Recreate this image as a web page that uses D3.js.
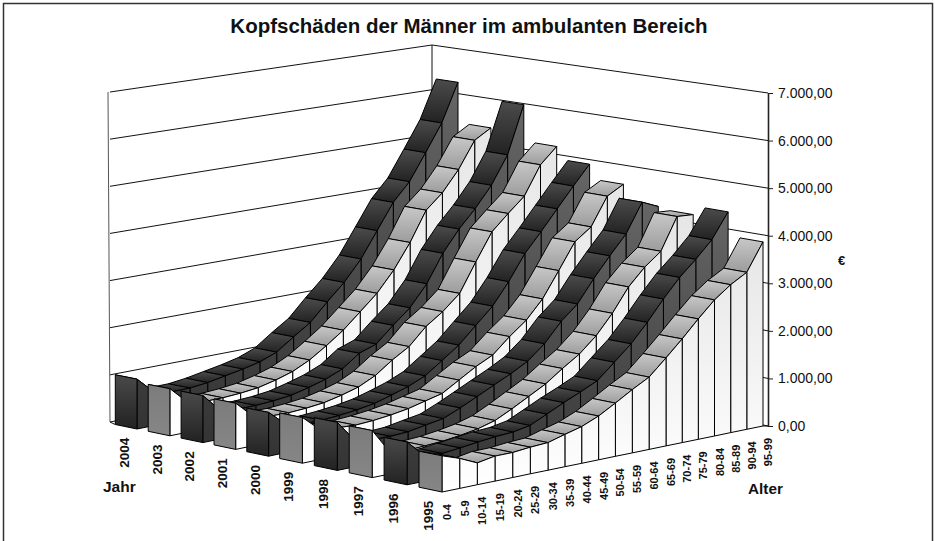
<!DOCTYPE html>
<html><head><meta charset="utf-8">
<script src="https://cdn.jsdelivr.net/npm/d3@7"></script>
<style>html,body{margin:0;padding:0;background:#fff}svg{display:block}text{font-family:"Liberation Sans",Arial,sans-serif;fill:#111}</style>
</head><body><svg id="c" width="935" height="541"></svg>
<script>
const title = "Kopfschäden der Männer im ambulanten Bereich";
const ages = ["0-4","5-9","10-14","15-19","20-24","25-29","30-34","35-39","40-44","45-49","50-54","55-59","60-64","65-69","70-74","75-79","80-84","85-89","90-94","95-99"];
const years = ["1995","1996","1997","1998","1999","2000","2001","2002","2003","2004"];
const v1995 = [760,630,460,525,525,560,580,680,770,920,1120,1330,1520,1850,2180,2530,2860,3110,3300,3870];
const v1996 = [900,525,505,545,590,630,650,715,880,1050,1200,1365,1680,1995,2375,2795,3180,3490,3835,4350];
const v1997 = [990,460,420,440,460,505,570,670,840,1030,1220,1470,1700,2015,2415,2900,3245,3510,4170,4140];
const v1998 = [1010,550,485,485,505,570,630,780,945,1115,1280,1470,1765,2165,2460,2920,3330,3720,4320,4160];
const v1999 = [960,630,590,570,590,630,690,775,860,1070,1280,1450,1765,2040,2415,2940,3475,3720,4295,4475];
const v2000 = [920,590,525,525,550,590,650,750,860,1010,1260,1510,1850,2185,2630,3150,3540,3950,4360,4750];
const v2001 = [970,620,550,540,560,600,680,780,950,1200,1410,1760,2000,2310,2900,3465,3780,4075,4665,4980];
const v2002 = [990,600,550,550,570,610,700,800,945,1200,1320,1640,1935,2370,2940,3380,3740,4160,4730,5715];
const v2003 = [990,630,570,570,590,630,715,820,990,1220,1470,1785,2100,2520,3025,3635,3930,4350,4895,5085];
const v2004 = [1050,690,630,630,670,735,800,880,1010,1260,1490,1850,2185,2605,3130,3655,4020,4560,5115,5900];
const seriesValues = [v1995,v1996,v1997,v1998,v1999,v2000,v2001,v2002,v2003,v2004];
const valueTicks = [0,1000,2000,3000,4000,5000,6000,7000];

const svg = d3.select("#c");
const defs = svg.append("defs");
function grad(id, topC, bottomC){
  const g = defs.append("linearGradient").attr("id",id).attr("x1",0).attr("y1",0).attr("x2",0).attr("y2",1);
  g.append("stop").attr("offset",0).attr("stop-color",topC);
  g.append("stop").attr("offset",1).attr("stop-color",bottomC);
}
grad("topDark","#4c4c4c","#222222");
grad("topLight","#c8c8c8","#9c9c9c");
grad("frontDark","#4a4a4a","#222222");
grad("frontLight","#7c7c7c","#868686");

// scales
const ageU = d3.scaleLinear().domain([0,6,13,19]).range([0,106,224,321]);
const depthU = d3.scaleLinear().domain([0,4.5,9]).range([0,157,305]);
const h = d3.scaleLinear().domain([0,7000]).range([0,333]);
const Ox = 442, Oy = 492, ageSlope = 66/321, depthSlope = 63/305, bandW = 0.66;

function base(a,d){ const u=ageU(a), w=depthU(d); return [Ox+u-w, Oy-u*ageSlope-w*depthSlope]; }
function topPt(a,d,val,near){ const b=base(a,d); return [b[0], b[1]-h(val)*(near?1:0.996)]; }
const poly = pts => "M"+pts.map(p=>p[0].toFixed(1)+","+p[1].toFixed(1)).join("L")+"Z";

const g = svg.append("g");
// frame
g.append("rect").attr("x",3.5).attr("y",3.5).attr("width",929).attr("height",560).attr("fill","none").attr("stroke","#333").attr("stroke-width",1.5);
g.append("text").attr("x",469).attr("y",33).attr("text-anchor","middle").attr("font-weight","bold").attr("font-size",20.5).text(title);

// walls
const cLeftBottom=[110,422], cLeftTop=[108,92], cBackTop=[432,45], cBackBottom=[432,358], cRightBottom=[768,426], cRightTop=[768,93];
const yRight = d3.scaleLinear().domain([0,7000]).range([cRightBottom[1],cRightTop[1]]);
const yBack = d3.scaleLinear().domain([0,7000]).range([cBackBottom[1],cBackTop[1]]);
const yLeft = d3.scaleLinear().domain([0,7000]).range([cLeftBottom[1],cLeftTop[1]]);
const walls = g.append("g").attr("fill","none").attr("stroke","#111").attr("stroke-width",1);
walls.selectAll("path.l").data(valueTicks).join("path").attr("class","l").attr("d",v=>`M${cLeftBottom[0]},${yLeft(v)}L${cBackTop[0]},${yBack(v)}`);
walls.selectAll("path.r").data(valueTicks).join("path").attr("class","r").attr("d",v=>`M${cBackTop[0]},${yBack(v)}L${cRightTop[0]},${yRight(v)}`);
walls.append("path").attr("d",`M${cLeftTop}L${cLeftBottom}`).attr("stroke","#555");
walls.append("path").attr("d",`M${cBackTop}L${cBackBottom}`);
walls.append("path").attr("d",`M${cLeftBottom}L${base(0,9.66)}`);
walls.append("path").attr("d",`M${cRightBottom}L${base(19,0)}`);

// series, far to near
d3.range(seriesValues.length-1,-1,-1).forEach(i=>{
  const vals = seriesValues[i], dark = (9-i)%2===0;
  const sg = g.append("g").attr("stroke","#000").attr("stroke-width",1).attr("stroke-linejoin","round");
  const gid = "side"+i;
  const yMin = d3.min(vals,(v,a)=>topPt(a,i,v,true)[1]), yMax = base(0,i)[1];
  const sgr = defs.append("linearGradient").attr("id",gid).attr("gradientUnits","userSpaceOnUse").attr("x1",0).attr("y1",yMin).attr("x2",0).attr("y2",yMax);
  sgr.append("stop").attr("offset",0).attr("stop-color",dark?"#666666":"#e6e6e6");
  sgr.append("stop").attr("offset",1).attr("stop-color",dark?"#343434":"#ffffff");
  d3.range(18,-1,-1).forEach(a=>{
    const va=vals[a], vb=vals[a+1], far=i+bandW;
    sg.append("path").attr("fill",`url(#${dark?"topDark":"topLight"})`)
      .attr("d",poly([topPt(a,i,va,true),topPt(a,far,va,false),topPt(a+1,far,vb,false),topPt(a+1,i,vb,true)]));
    sg.append("path").attr("fill",`url(#${gid})`)
      .attr("d",poly([topPt(a,i,va,true),topPt(a+1,i,vb,true),base(a+1,i),base(a,i)]));
  });
  const far=i+bandW;
  sg.append("path").attr("fill",`url(#${dark?"frontDark":"frontLight"})`).attr("stroke-width",1)
    .attr("d",poly([topPt(0,i,vals[0],true),topPt(0,far,vals[0],false),base(0,far),base(0,i)]));
  const c = base(0,i+bandW/2);
  g.append("text").attr("transform",`translate(${c[0]+2.5},${c[1]+11}) rotate(-90)`).attr("text-anchor","end")
    .attr("font-weight","bold").attr("font-size",13.5).text(years[i]);
});

// age labels
g.selectAll("text.age").data(ages).join("text").attr("class","age")
 .attr("transform",(d,a)=>{const b=base(a,0);return `translate(${b[0]+9},${b[1]+12}) rotate(-90)`;})
 .attr("text-anchor","end").attr("font-weight","bold").attr("font-size",11).text(d=>d);

// value axis
const nf = d3.formatLocale({decimal:",",thousands:".",grouping:[3],currency:["","€"]}).format(",.2f");
const axis = d3.axisRight(yRight).tickValues(valueTicks).tickFormat(nf).tickSize(5).tickSizeOuter(0).tickPadding(5);
const ax = g.append("g").attr("transform",`translate(${cRightBottom[0]},0)`).call(axis);
ax.select(".domain").attr("stroke","#222").attr("stroke-width",1.6);
ax.selectAll(".tick line").attr("stroke","#222").attr("stroke-width",1);
ax.selectAll(".tick text").attr("font-size",14).attr("font-family",'"Liberation Sans",Arial,sans-serif').attr("fill","#111");

g.append("text").attr("x",838).attr("y",265).attr("font-weight","bold").attr("font-size",13).text("€");
g.append("text").attr("x",103).attr("y",492).attr("font-weight","bold").attr("font-size",15.5).text("Jahr");
g.append("text").attr("x",748).attr("y",494).attr("font-weight","bold").attr("font-size",15.3).text("Alter");
</script></body></html>
